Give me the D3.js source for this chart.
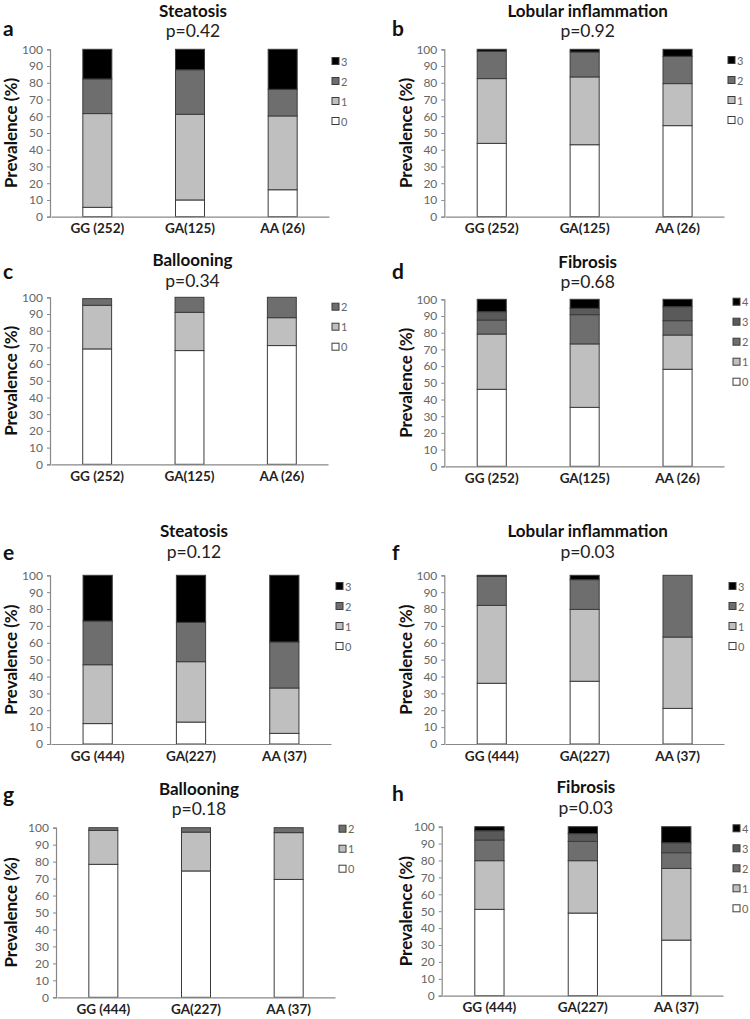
<!DOCTYPE html>
<html>
<head>
<meta charset="utf-8">
<script src="https://cdn.jsdelivr.net/npm/d3@7"></script>
<style>
  html, body { margin: 0; padding: 0; background: #fff; }
  svg { display: block; }
  text { font-family: Lato, "Open Sans", sans-serif; }
</style>
</head>
<body>
<svg id="chart" width="750" height="1019"></svg>
<script>
// ---------- DATA ----------
const groups1 = ["GG (252)", "GA(125)", "AA (26)"];
const groups2 = ["GG (444)", "GA(227)", "AA (37)"];
const yTicks = [0, 10, 20, 30, 40, 50, 60, 70, 80, 90, 100];

const grades3 = ["0", "1", "2", "3"];
const grades2 = ["0", "1", "2"];
const grades4 = ["0", "1", "2", "3", "4"];

// percentages per group (rows) and per grade (columns)
const steatosis1  = [[5.6, 56.0, 20.7, 17.7], [10.0, 51.2, 26.6, 12.2], [16.1, 44.1, 15.9, 23.9]];
const lobular1    = [[43.8, 38.7, 16.3, 1.2], [43.0, 40.5, 14.9, 1.6], [54.4, 25.1, 16.3, 4.2]];
const ballooning1 = [[69.1, 26.1, 4.0], [68.1, 22.9, 9.0], [71.1, 16.7, 12.2]];
const fibrosis1   = [[46.1, 33.1, 8.4, 5.0, 7.4], [35.3, 38.0, 17.5, 3.8, 5.4], [58.1, 20.5, 8.6, 8.4, 4.4]];
const steatosis2  = [[12.1, 34.9, 25.9, 27.1], [13.0, 35.8, 23.3, 27.9], [6.3, 26.9, 27.3, 39.5]];
const lobular2    = [[36.0, 46.2, 17.2, 0.6], [37.2, 42.6, 17.6, 2.6], [21.1, 42.3, 36.6, 0]];
const ballooning2 = [[78.4, 20.0, 1.6], [74.5, 22.9, 2.6], [69.5, 27.6, 2.9]];
const fibrosis2   = [[51.1, 28.8, 12.2, 5.5, 2.4], [48.9, 31.0, 11.4, 4.6, 4.1], [32.9, 42.4, 9.3, 5.9, 9.5]];

const titles = ["Steatosis", "Lobular inflammation", "Ballooning", "Fibrosis",
                "Steatosis", "Lobular inflammation", "Ballooning", "Fibrosis"];
const pValues = ["p=0.42", "p=0.92", "p=0.34", "p=0.68", "p=0.12", "p=0.03", "p=0.18", "p=0.03"];
const letters = ["a", "b", "c", "d", "e", "f", "g", "h"];

// ---------- STYLE / LAYOUT ----------
const colors3 = ["#ffffff", "#bfbfbf", "#6e6e6e", "#000000"];
const colors2 = ["#ffffff", "#bfbfbf", "#6e6e6e"];
const colors4 = ["#ffffff", "#bfbfbf", "#6e6e6e", "#5a5a5a", "#000000"];

const panels = [
  {data: steatosis1,  groups: groups1, grades: grades3, colors: colors3, L: 50,    R: 328, T: 49.3,  B: 216.7, titleY: 10,    pY: 30,    letX: 3,   letY: 27,  legX: 332, legY: 61,    ytX: 10},
  {data: lobular1,    groups: groups1, grades: grades3, colors: colors3, L: 444.3, R: 723, T: 49.3,  B: 216.7, titleY: 10,    pY: 30,    letX: 392, letY: 27,  legX: 728, legY: 60,    ytX: 405},
  {data: ballooning1, groups: groups1, grades: grades2, colors: colors2, L: 50,    R: 327, T: 297.3, B: 464.3, titleY: 259,   pY: 280,   letX: 3,   letY: 270, legX: 332, legY: 306.7, ytX: 10},
  {data: fibrosis1,   groups: groups1, grades: grades4, colors: colors4, L: 444.3, R: 723, T: 299.3, B: 466.3, titleY: 261,   pY: 281.7, letX: 392, letY: 270, legX: 733, legY: 301.7, ytX: 405},
  {data: steatosis2,  groups: groups2, grades: grades3, colors: colors3, L: 50,    R: 330, T: 575.3, B: 744,   titleY: 530,   pY: 551.7, letX: 3,   letY: 551, legX: 336, legY: 586,   ytX: 10},
  {data: lobular2,    groups: groups2, grades: grades3, colors: colors3, L: 444.3, R: 723, T: 575.3, B: 744,   titleY: 530,   pY: 551.7, letX: 392, letY: 551, legX: 729, legY: 586,   ytX: 405},
  {data: ballooning2, groups: groups2, grades: grades2, colors: colors2, L: 56,    R: 334, T: 827.7, B: 997.3, titleY: 788,   pY: 808,   letX: 3,   letY: 793, legX: 339, legY: 828.7, ytX: 10},
  {data: fibrosis2,   groups: groups2, grades: grades4, colors: colors4, L: 441.7, R: 722, T: 826.7, B: 995.7, titleY: 786.7, pY: 807.7, letX: 392, letY: 792, legX: 733, legY: 828.3, ytX: 405}
];

const svg = d3.select("#chart");

panels.forEach((p, i) => {
  const g = svg.append("g");
  const x = d3.scaleBand().domain(p.groups).range([p.L + 1, p.R + 1]).paddingInner(0.687).paddingOuter(0.3435);
  const y = d3.scaleLinear().domain([0, 100]).range([p.B, p.T]);

  const keys = p.grades.map((d, k) => k);
  const rows = p.data.map((r, gi) => {
    const o = {group: p.groups[gi]};
    r.forEach((v, k) => o[k] = v);
    return o;
  });
  const stack = d3.stack().keys(keys)(rows);

  const yAxis = d3.axisLeft(y).tickValues(yTicks).tickSize(3).tickPadding(4);
  const ya = g.append("g").attr("transform", `translate(${p.L},0)`).call(yAxis);
  ya.select(".domain").attr("stroke", "#888").attr("stroke-width", 1.2);
  ya.selectAll(".tick line").attr("stroke", "#888");
  ya.selectAll(".tick text").attr("fill", "#666").attr("font-size", 12)
    .style("font-family", "Lato, sans-serif");

  stack.forEach((layer, k) => {
    g.selectAll(null).data(layer).enter().append("rect")
      .attr("x", d => x(d.data.group))
      .attr("width", x.bandwidth())
      .attr("y", d => y(d[1]))
      .attr("height", d => Math.max(0, y(d[0]) - y(d[1])))
      .attr("fill", p.colors[k])
      .attr("stroke", "#3c3c3c")
      .attr("stroke-width", 1);
  });

  const xAxis = d3.axisBottom(x).tickSize(0).tickPadding(7);
  const xa = g.append("g").attr("transform", `translate(0,${p.B})`).call(xAxis);
  xa.select(".domain").attr("stroke", "#888").attr("stroke-width", 1.2);
  xa.selectAll(".tick text").attr("fill", "#222").attr("font-size", 13.5)
    .attr("font-weight", "bold").style("font-family", "Lato, sans-serif");

  const cx = (p.L + p.R) / 2 + 4;
  g.append("text").attr("x", cx).attr("y", p.titleY).attr("text-anchor", "middle")
    .attr("dominant-baseline", "central").attr("font-size", 17).attr("font-weight", "bold")
    .attr("fill", "#111").text(titles[i]);
  g.append("text").attr("x", cx).attr("y", p.pY).attr("text-anchor", "middle")
    .attr("dominant-baseline", "central").attr("font-size", 17.5)
    .attr("fill", "#222").text(pValues[i]);
  g.append("text").attr("x", p.letX).attr("y", p.letY).attr("dominant-baseline", "central")
    .attr("font-size", 21).attr("font-weight", "bold").attr("fill", "#111").text(letters[i]);

  const my = (p.T + p.B) / 2;
  g.append("text").attr("transform", `translate(${p.ytX},${my}) rotate(-90)`)
    .attr("text-anchor", "middle").attr("dominant-baseline", "central")
    .attr("font-size", 17).attr("font-weight", "bold").attr("fill", "#111").text("Prevalence (%)");

  const legItems = p.grades.map((gname, k) => ({name: gname, k})).reverse();
  const lg = g.append("g");
  legItems.forEach((it, j) => {
    const ly = p.legY + j * 20;
    lg.append("rect").attr("x", p.legX).attr("y", ly - 3.5).attr("width", 7).attr("height", 7)
      .attr("fill", p.colors[it.k]).attr("stroke", "#3c3c3c").attr("stroke-width", 1);
    lg.append("text").attr("x", p.legX + 9).attr("y", ly).attr("dominant-baseline", "central")
      .attr("font-size", 11).attr("fill", "#666").text(it.name);
  });
});
</script>
</body>
</html>
